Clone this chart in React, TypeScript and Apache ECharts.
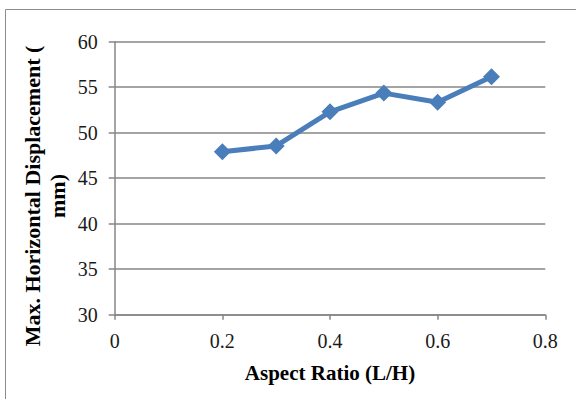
import React, { useEffect, useRef } from "react";
import * as echarts from "echarts";

const xValues = [0.2, 0.3, 0.4, 0.5, 0.6, 0.7];
const yValues = [47.9, 48.55, 52.3, 54.35, 53.35, 56.15];
const xTitle = "Aspect Ratio (L/H)";
const yTitle = "Max. Horizontal Displacement (\nmm)";

const FONT = '"Liberation Serif", "Times New Roman", serif';

export default function App() {
  const ref = useRef<HTMLDivElement>(null);
  useEffect(() => {
    if (!ref.current) return;
    const chart = echarts.init(ref.current, null, { renderer: "svg" });
    chart.setOption({
      animation: false,
      backgroundColor: "#ffffff",
      grid: { left: 114.7, right: 30.7, top: 41.7, bottom: 84.3, containLabel: false },
      xAxis: {
        type: "value",
        min: 0,
        max: 0.8,
        interval: 0.2,
        axisLine: { show: true, lineStyle: { color: "#868686", width: 1.5 } },
        axisTick: { show: true, length: 5, inside: false, lineStyle: { color: "#868686", width: 1.5 } },
        splitLine: { show: false },
        axisLabel: {
          color: "#1a1a1a",
          fontFamily: FONT,
          fontSize: 20,
          margin: 16,
          formatter: (v: number) => (v === 0 ? "0" : String(Math.round(v * 10) / 10)),
        },
      },
      yAxis: {
        type: "value",
        min: 30,
        max: 60,
        interval: 5,
        axisLine: { show: true, onZero: false, lineStyle: { color: "#868686", width: 1.5 } },
        axisTick: { show: true, length: 6, inside: false, lineStyle: { color: "#868686", width: 1.5 } },
        splitLine: { show: true, lineStyle: { color: "#868686", width: 1.5 } },
        axisLabel: { color: "#1a1a1a", fontFamily: FONT, fontSize: 20, margin: 17 },
      },
      graphic: [
        {
          type: "rect",
          shape: { x: 5.5, y: 9.5, width: 600, height: 420 },
          style: { fill: "none", stroke: "#8c8c8c", lineWidth: 1 },
          silent: true,
        },
        {
          type: "text",
          x: 330,
          y: 373,
          style: {
            text: xTitle,
            fontFamily: FONT,
            fontSize: 21,
            fontWeight: "bold",
            fill: "#000",
            textAlign: "center",
            textVerticalAlign: "middle",
          },
        },
        {
          type: "text",
          x: 45,
          y: 196,
          rotation: Math.PI / 2,
          style: {
            text: yTitle,
            fontFamily: FONT,
            fontSize: 22,
            fontWeight: "bold",
            fill: "#000",
            textAlign: "center",
            textVerticalAlign: "middle",
            lineHeight: 25,
          },
        },
      ],
      series: [
        {
          type: "line",
          data: xValues.map((x, i) => [x, yValues[i]]),
          symbol: "diamond",
          symbolSize: 17,
          lineStyle: { color: "#4A7EBB", width: 5 },
          itemStyle: { color: "#4A7EBB" },
        },
      ],
    });
    return () => chart.dispose();
  }, []);
  return (
    <div
      ref={ref}
      style={{ position: "absolute", left: 0, top: 0, width: 576, height: 399 }}
    />
  );
}
